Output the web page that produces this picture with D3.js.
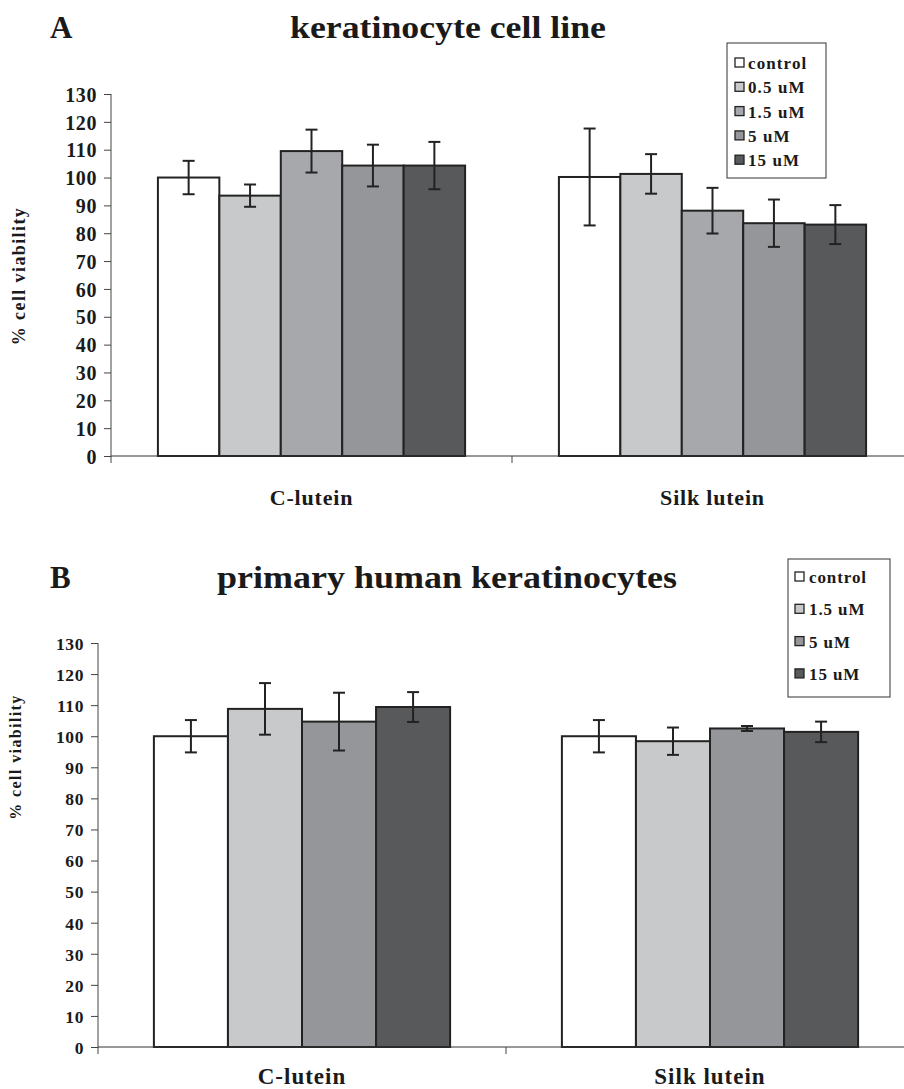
<!DOCTYPE html>
<html>
<head>
<meta charset="utf-8">
<script src="https://cdn.jsdelivr.net/npm/d3@7"></script>
<style>
  html, body { margin: 0; padding: 0; background: #fff; }
  svg { display: block; }
  text { font-family: "Liberation Serif", "Times New Roman", serif; font-weight: bold; fill: #1a1a1a; }
</style>
</head>
<body>
<svg id="chart" width="904" height="1089"></svg>
<script>
// ---- Data ----
const categories = ["C-lutein", "Silk lutein"];
const yTicks = [0, 10, 20, 30, 40, 50, 60, 70, 80, 90, 100, 110, 120, 130];

// Panel A: keratinocyte cell line
const seriesA = ["control", "0.5 uM", "1.5 uM", "5 uM", "15 uM"];
const meansA = [
  [100, 93.5, 109.5, 104.3, 104.3],   // C-lutein
  [100.2, 101.3, 88.1, 83.6, 83.1]    // Silk lutein
];
const errorsA = [
  [6, 4, 7.7, 7.5, 8.5],
  [17.4, 7.1, 8.2, 8.5, 7.0]
];

// Panel B: primary human keratinocytes
const seriesB = ["control", "1.5 uM", "5 uM", "15 uM"];
const meansB = [
  [100, 108.8, 104.7, 109.4],
  [100, 98.4, 102.5, 101.4]
];
const errorsB = [
  [5.2, 8.3, 9.3, 4.8],
  [5.2, 4.4, 0.8, 3.3]
];

// ---- Styling ----
const fillA = ["#ffffff", "#c8c9cb", "#a7a8ab", "#95969a", "#58595b"];
const fillB = ["#ffffff", "#c8c9cb", "#95969a", "#58595b"];
const ink = "#222222";

const svg = d3.select("#chart");

function drawPanel(cfg) {
  const g = svg.append("g");
  const y = d3.scaleLinear().domain([0, 130]).range([cfg.y0, cfg.y130]);
  const x = d3.scaleBand().domain(categories).range([cfg.xLeft, cfg.xRight]).padding(0);
  const bw = x.bandwidth();
  const inner = d3.scaleBand().domain(cfg.series)
    .range([bw * (1 - cfg.groupFrac) / 2, bw * (1 + cfg.groupFrac) / 2]).padding(0);

  // bars
  categories.forEach((cat, ci) => {
    const grp = g.append("g").attr("transform", `translate(${x(cat)},0)`);
    const rows = cfg.series.map((s, si) => ({ s, si, v: cfg.means[ci][si], e: cfg.errors[ci][si] }));
    grp.selectAll("rect").data(rows).join("rect")
      .attr("x", d => inner(d.s))
      .attr("y", d => y(d.v))
      .attr("width", inner.bandwidth())
      .attr("height", d => y(0) - y(d.v))
      .attr("fill", d => cfg.fills[d.si])
      .attr("stroke", ink)
      .attr("stroke-width", 2);

    // error bars
    const eb = grp.selectAll("g.err").data(rows).join("g").attr("class", "err")
      .attr("transform", d => `translate(${inner(d.s) + inner.bandwidth() / 2},0)`);
    eb.append("line")
      .attr("x1", 0).attr("x2", 0)
      .attr("y1", d => y(d.v + d.e)).attr("y2", d => y(d.v - d.e))
      .attr("stroke", ink).attr("stroke-width", 2);
    eb.append("line")
      .attr("x1", -cfg.cap).attr("x2", cfg.cap)
      .attr("y1", d => y(d.v + d.e)).attr("y2", d => y(d.v + d.e))
      .attr("stroke", ink).attr("stroke-width", 2);
    eb.append("line")
      .attr("x1", -cfg.cap).attr("x2", cfg.cap)
      .attr("y1", d => y(d.v - d.e)).attr("y2", d => y(d.v - d.e))
      .attr("stroke", ink).attr("stroke-width", 2);
  });

  // y axis
  const yAxis = d3.axisLeft(y).tickValues(yTicks).tickSize(cfg.tickLen).tickPadding(cfg.tickPad).tickFormat(d3.format("d"));
  const ya = g.append("g").attr("transform", `translate(${cfg.xLeft},0)`).call(yAxis)
    .attr("font-family", null).attr("font-size", null);
  ya.select(".domain").remove();
  ya.selectAll(".tick line").attr("stroke", "#444").attr("stroke-width", 1);
  ya.selectAll(".tick text")
    .style("font-size", cfg.tickFont + "px").style("letter-spacing", cfg.tickSpacing + "px")
    .attr("fill", "#1a1a1a").attr("dy", "0.36em");
  g.append("line").attr("x1", cfg.xLeft).attr("x2", cfg.xLeft)
    .attr("y1", y(130)).attr("y2", y(0) + 7).attr("stroke", "#444").attr("stroke-width", 1);

  // x axis with boundary ticks
  g.append("line").attr("x1", cfg.xLeft).attr("x2", cfg.xRight)
    .attr("y1", y(0)).attr("y2", y(0)).attr("stroke", "#333").attr("stroke-width", 1.2);
  const bounds = [cfg.xLeft + bw, cfg.xRight];
  g.selectAll("line.xb").data(bounds).join("line").attr("class", "xb")
    .attr("x1", d => d).attr("x2", d => d)
    .attr("y1", y(0)).attr("y2", y(0) + 7).attr("stroke", "#444").attr("stroke-width", 1);

  // category labels
  g.selectAll("text.cat").data(categories).join("text").attr("class", "cat")
    .attr("x", d => x(d) + bw / 2).attr("y", cfg.catY)
    .attr("text-anchor", "middle").style("font-size", cfg.catFont + "px")
    .style("letter-spacing", cfg.catSpacing + "px")
    .text(d => d);

  // y title
  g.append("text")
    .attr("transform", `translate(${cfg.yTitleX},${cfg.yTitleY}) rotate(-90)`)
    .attr("text-anchor", "middle").style("font-size", cfg.yTitleFont + "px")
    .style("letter-spacing", cfg.yTitleSpacing + "px")
    .text("% cell viability");

  // panel letter and title
  g.append("text").attr("x", 50).attr("y", cfg.titleY).style("font-size", "31px").text(cfg.letter);
  g.append("text").attr("x", cfg.titleX).attr("y", cfg.titleY)
    .attr("text-anchor", "middle").style("font-size", "32px")
    .attr("textLength", cfg.titleLen).attr("lengthAdjust", "spacingAndGlyphs")
    .text(cfg.title);

  // legend
  const L = cfg.legend;
  g.append("rect").attr("x", L.x).attr("y", L.y).attr("width", L.w).attr("height", L.h)
    .attr("fill", "#fff").attr("stroke", "#333").attr("stroke-width", 1);
  const items = g.selectAll("g.leg").data(cfg.series).join("g").attr("class", "leg")
    .attr("transform", (d, i) => `translate(${L.x + L.pad},${L.y0 + i * L.step})`);
  items.append("rect").attr("x", 0).attr("y", -5).attr("width", 9).attr("height", 9)
    .attr("fill", (d, i) => cfg.fills[i]).attr("stroke", ink).attr("stroke-width", 1.3);
  items.append("text").attr("x", L.gap).attr("y", 0).attr("dy", "0.35em")
    .style("font-size", L.font + "px").style("letter-spacing", L.spacing + "px").text(d => d);
}

drawPanel({
  letter: "A", title: "keratinocyte cell line", titleX: 448, titleY: 38, titleLen: 316,
  series: seriesA, means: meansA, errors: errorsA, fills: fillA,
  xLeft: 111, xRight: 913, y0: 456, y130: 94, groupFrac: 0.766, cap: 6,
  tickLen: 7, tickPad: 7, tickFont: 20, tickSpacing: 0.6,
  catY: 505, catFont: 22, catSpacing: 0.8,
  yTitleX: 25, yTitleY: 276, yTitleFont: 18, yTitleSpacing: 1.4,
  legend: { x: 727, y: 43, w: 99, h: 135, y0: 63, step: 24.3, font: 17, spacing: 1.1, pad: 8, gap: 13 }
});

drawPanel({
  letter: "B", title: "primary human keratinocytes", titleX: 447, titleY: 588, titleLen: 460,
  series: seriesB, means: meansB, errors: errorsB, fills: fillB,
  xLeft: 98, xRight: 914, y0: 1047, y130: 643, groupFrac: 0.726, cap: 6,
  tickLen: 7, tickPad: 7, tickFont: 17.5, tickSpacing: 0.6,
  catY: 1084, catFont: 23, catSpacing: 1,
  yTitleX: 21, yTitleY: 757, yTitleFont: 16, yTitleSpacing: 1.4,
  legend: { x: 788, y: 559, w: 102, h: 138, y0: 577, step: 32.3, font: 17, spacing: 0.9, pad: 7, gap: 14 }
});
</script>
</body>
</html>
